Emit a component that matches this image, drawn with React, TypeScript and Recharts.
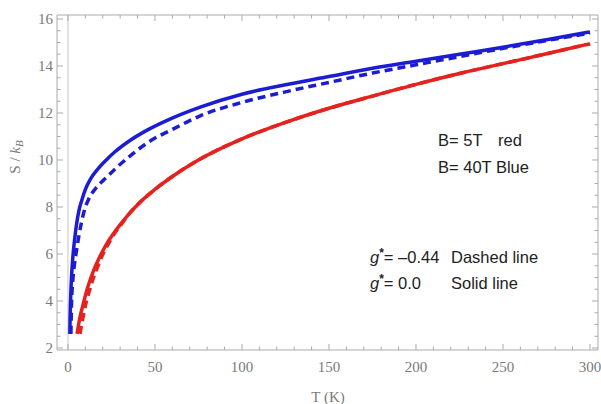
import React from "react"
import { LineChart, Line, XAxis, YAxis, ReferenceLine } from "recharts"

// B = 40 T (blue), g* = 0.0 (solid)
const tBlueSolid = [1.1, 1.2, 1.35, 1.5, 1.75, 2, 2.4, 2.9, 3.5, 4.2, 5, 6.3, 8, 10, 13, 17, 22, 27, 35, 45, 58.6, 76, 100, 125, 150, 175, 200, 225, 250, 275, 300]
const sBlueSolid = [2.6, 3.2, 3.7, 4.05, 4.55, 4.95, 5.45, 5.95, 6.4, 6.85, 7.3, 7.85, 8.3, 8.75, 9.2, 9.6, 10.0, 10.35, 10.8, 11.25, 11.74, 12.25, 12.8, 13.2, 13.55, 13.9, 14.2, 14.5, 14.8, 15.12, 15.45]

// B = 40 T (blue), g* = -0.44 (dashed)
const tBlueDashed = [1.7, 1.85, 2.1, 2.6, 3.4, 4.6, 6, 7.5, 9.2, 12, 16, 22, 29, 37, 47, 60, 76, 100, 125, 150, 175, 200, 225, 250, 275, 300]
const sBlueDashed = [2.6, 3.2, 4.0, 4.7, 5.35, 6.0, 6.65, 7.25, 7.8, 8.35, 8.8, 9.25, 9.75, 10.25, 10.8, 11.3, 11.88, 12.45, 12.9, 13.3, 13.7, 14.05, 14.4, 14.75, 15.08, 15.4]

// B = 5 T (red), g* = 0.0 (solid)
const tRedSolid = [5.2, 6, 7, 8, 9.2, 11, 13, 15, 18.4, 22, 26, 30, 35, 40, 50, 60, 75, 100, 125, 150, 175, 200, 225, 250, 275, 300]
const sRedSolid = [2.6, 2.95, 3.35, 3.65, 4.0, 4.5, 4.95, 5.35, 5.9, 6.4, 6.85, 7.25, 7.7, 8.1, 8.75, 9.3, 10.0, 10.9, 11.6, 12.2, 12.72, 13.22, 13.68, 14.1, 14.52, 14.95]

// B = 5 T (red), g* = -0.44 (dashed)
const tRedDashed = [6.9, 7.5, 8.5, 10, 12, 14, 16.5, 19.5, 23, 27, 31, 35, 40, 50, 60, 75, 100, 125, 150, 175, 200, 225, 250, 275, 300]
const sRedDashed = [2.6, 2.85, 3.25, 3.8, 4.35, 4.85, 5.35, 5.9, 6.4, 6.9, 7.3, 7.7, 8.1, 8.75, 9.3, 10.0, 10.9, 11.6, 12.2, 12.72, 13.22, 13.68, 14.1, 14.52, 14.95]

const xTicks = [0, 10, 20, 30, 40, 50, 60, 70, 80, 90, 100, 110, 120, 130, 140, 150, 160, 170, 180, 190, 200, 210, 220, 230, 240, 250, 260, 270, 280, 290, 300]
const xMajor = [0, 50, 100, 150, 200, 250, 300]
const yTicks = [2, 2.5, 3, 3.5, 4, 4.5, 5, 5.5, 6, 6.5, 7, 7.5, 8, 8.5, 9, 9.5, 10, 10.5, 11, 11.5, 12, 12.5, 13, 13.5, 14, 14.5, 15, 15.5, 16]
const yMajor = [2, 4, 6, 8, 10, 12, 14, 16]

const toPoints = (t: number[], s: number[]) => t.map((T, i) => ({ T, S: s[i] }))

const frameColor = "#ababab"
const labelColor = "#7a7a7a"
const serif = "'Liberation Serif', 'DejaVu Serif', serif"
const sans = "'Liberation Sans', Arial, sans-serif"
const blue = "#1c1cd2"
const red = "#e5221e"

const BottomTick = (props: any) => {
  const { x, y, payload } = props
  const major = xMajor.includes(payload.value)
  return (
    <g>
      <line x1={x} x2={x} y1={y} y2={y - (major ? 6 : 3.5)} stroke={frameColor} />
      {major && (
        <text x={x} y={y + 22} textAnchor="middle" fontFamily={serif} fontSize={15} fill={labelColor}>
          {payload.value}
        </text>
      )}
    </g>
  )
}

const TopTick = (props: any) => {
  const { x, y, payload } = props
  const major = xMajor.includes(payload.value)
  return <line x1={x} x2={x} y1={y} y2={y + (major ? 6 : 3.5)} stroke={frameColor} />
}

const LeftTick = (props: any) => {
  const { x, y, payload } = props
  const major = yMajor.includes(payload.value)
  return (
    <g>
      <line x1={x} x2={x + (major ? 6 : 3.5)} y1={y} y2={y} stroke={frameColor} />
      {major && (
        <text x={x - 4} y={y + 5} textAnchor="end" fontFamily={serif} fontSize={15} fill={labelColor}>
          {payload.value}
        </text>
      )}
    </g>
  )
}

const RightTick = (props: any) => {
  const { x, y, payload } = props
  const major = yMajor.includes(payload.value)
  return <line x1={x} x2={x - (major ? 6 : 3.5)} y1={y} y2={y} stroke={frameColor} />
}

export default function App() {
  return (
    <div style={{ position: "absolute", left: 0, top: 0, width: 601, height: 404, background: "#fff" }}>
      <LineChart width={601} height={404} margin={{ top: 14, right: 2, bottom: 53, left: 56 }}>
        <XAxis xAxisId="b" type="number" dataKey="T" domain={[-6.3, 304.6]} ticks={xTicks} allowDataOverflow
          height={1} tickSize={0} tickMargin={0} tickLine={false} interval={0} stroke={frameColor} tick={BottomTick} />
        <XAxis xAxisId="t" orientation="top" type="number" dataKey="T" domain={[-6.3, 304.6]} ticks={xTicks} allowDataOverflow
          height={1} tickSize={0} tickMargin={0} tickLine={false} interval={0} stroke={frameColor} tick={TopTick} />
        <YAxis yAxisId="l" type="number" dataKey="S" domain={[1.915, 16.17]} ticks={yTicks} allowDataOverflow
          width={1} tickSize={0} tickMargin={0} tickLine={false} interval={0} stroke={frameColor} tick={LeftTick} />
        <YAxis yAxisId="r" orientation="right" type="number" dataKey="S" domain={[1.915, 16.17]} ticks={yTicks} allowDataOverflow
          width={1} tickSize={0} tickMargin={0} tickLine={false} interval={0} stroke={frameColor} tick={RightTick} />
        <ReferenceLine xAxisId="b" yAxisId="l" x={0} stroke="#c4c4c4" />
        <Line xAxisId="b" yAxisId="l" data={toPoints(tRedSolid, sRedSolid)} dataKey="S" type="monotone" stroke={red}
          strokeWidth={3.5} dot={false} isAnimationActive={false} />
        <Line xAxisId="b" yAxisId="l" data={toPoints(tRedDashed, sRedDashed)} dataKey="S" type="monotone" stroke={red}
          strokeWidth={3.5} strokeDasharray="8 5" dot={false} isAnimationActive={false} />
        <Line xAxisId="b" yAxisId="l" data={toPoints(tBlueSolid, sBlueSolid)} dataKey="S" type="monotone" stroke={blue}
          strokeWidth={3.5} dot={false} isAnimationActive={false} />
        <Line xAxisId="b" yAxisId="l" data={toPoints(tBlueDashed, sBlueDashed)} dataKey="S" type="monotone" stroke={blue}
          strokeWidth={3.5} strokeDasharray="8 5" dot={false} isAnimationActive={false} />
      </LineChart>
      <svg width={601} height={404} style={{ position: "absolute", left: 0, top: 0, pointerEvents: "none" }}>
        <text x={328} y={402} textAnchor="middle" fontFamily={serif} fontSize={15} fill={labelColor}>T (K)</text>
        <text transform="translate(20,157) rotate(-90)" textAnchor="middle" fontFamily={serif} fontSize={15} fill={labelColor}>
          S / <tspan fontStyle="italic">k</tspan><tspan fontStyle="italic" fontSize={11} dy={3}>B</tspan>
        </text>
        <g fontFamily={sans} fontSize={16.5} fill="#222">
          <text x={438} y={146}>B= 5T<tspan x={498}>red</tspan></text>
          <text x={438} y={173}>B= 40T Blue</text>
          <text x={370} y={263}>
            <tspan fontStyle="italic">g</tspan><tspan dy={-6} fontSize={12} fontWeight="bold">*</tspan><tspan dy={6}>= –0.44</tspan>
            <tspan x={451}>Dashed line</tspan>
          </text>
          <text x={370} y={289}>
            <tspan fontStyle="italic">g</tspan><tspan dy={-6} fontSize={12} fontWeight="bold">*</tspan><tspan dy={6}>= 0.0</tspan>
            <tspan x={451}>Solid line</tspan>
          </text>
        </g>
      </svg>
    </div>
  )
}
